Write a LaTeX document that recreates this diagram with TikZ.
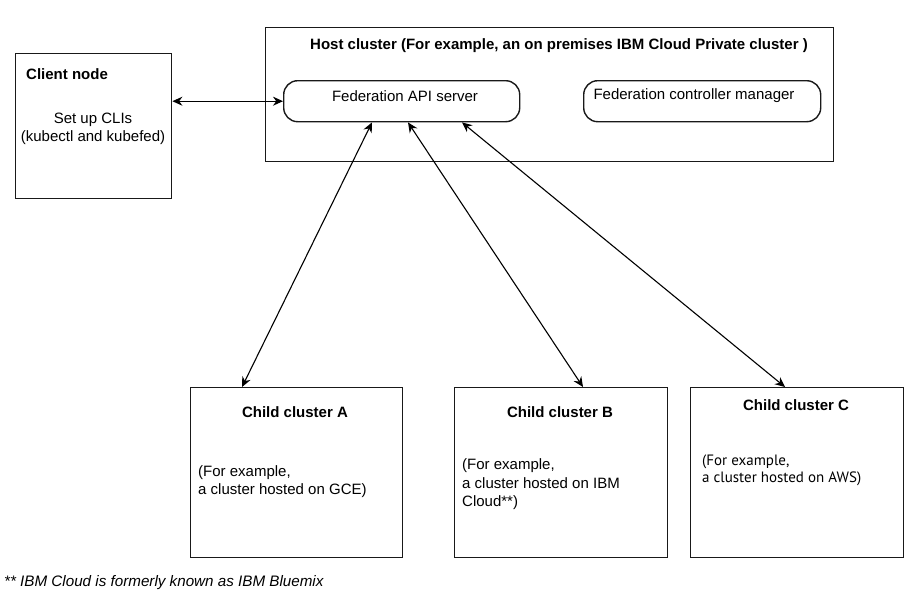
\documentclass[tikz,border=0pt]{standalone}
\usepackage{fontspec}
\setmainfont{Liberation Sans}
\newfontfamily\ptsans{PT Sans}
\usetikzlibrary{arrows.meta}
\begin{document}
\begin{tikzpicture}[x=1pt,y=-1pt,
  font=\fontsize{15pt}{18pt}\selectfont,
  box/.style={draw=black!90, line width=1.4pt, inner sep=0pt},
  rbox/.style={box, rounded corners=14pt},
  ttl/.style={font=\fontsize{15pt}{18pt}\selectfont\bfseries, inner sep=0pt},
  txt/.style={inner sep=0pt, align=left},
  arr/.style={{Stealth[length=10pt,width=9pt]}-{Stealth[length=10pt,width=9pt]}, line width=1.1pt}]
\useasboundingbox (0,0) rectangle (912,606);
% client
\node[box, anchor=north west, minimum width=156pt, minimum height=145pt] (client) at (15,53) {};
\node[ttl, anchor=west] (clientT) at (26,74) {Client node};
\node[txt, align=center] (clientS) at (93,129) {Set up CLIs\\(kubectl and kubefed)};
% host
\node[box, anchor=north west, minimum width=568pt, minimum height=134pt] (host) at (265,27) {};
\node[ttl] (hostT) at (559,46) {Host cluster (For example, an on premises IBM Cloud Private cluster )};
\node[rbox, anchor=north west, minimum width=236pt, minimum height=41pt] (api) at (283,80) {};
\node[txt] (apiT) at (405,96) {Federation API server};
\node[rbox, anchor=north west, minimum width=237pt, minimum height=41pt] (ctrl) at (583,80) {};
\node[txt] (ctrlT) at (694,96) {Federation controller manager};
% children
\node[box, anchor=north west, minimum width=212pt, minimum height=170pt] (childA) at (190,387) {};
\node[ttl] (childAT) at (295,412) {Child cluster A};
\node[txt, anchor=west] (childAS) at (198,482) {(For example,\\a cluster hosted on GCE)};
\node[box, anchor=north west, minimum width=213pt, minimum height=170pt] (childB) at (454,387) {};
\node[ttl] (childBT) at (560,412) {Child cluster B};
\node[txt, anchor=west, font=\fontsize{15pt}{18.5pt}\selectfont] (childBS) at (462,484.5) {(For example,\\a cluster hosted on IBM\\Cloud**)};
\node[box, anchor=north west, minimum width=213pt, minimum height=170pt] (childC) at (690,387) {};
\node[ttl] (childCT) at (796,405) {Child cluster C};
\node[txt, anchor=west, font=\ptsans\fontsize{15pt}{17pt}\selectfont] (childCS) at (702,470.5) {(For example,\\a cluster hosted on AWS)};
% footnote
\node[txt, anchor=west, font=\fontsize{15.2pt}{18pt}\selectfont\itshape] (foot) at (4,583) {** IBM Cloud is formerly known as IBM Bluemix};
% connectors
\draw[arr] (client.east |- api.west) -- (api.west);
\draw[arr] ([xshift=89pt]api.south west) -- ([xshift=52pt]childA.north west);
\draw[arr] ([xshift=125pt]api.south west) -- ([xshift=129pt]childB.north west);
\draw[arr] ([xshift=179pt]api.south west) -- ([xshift=95pt]childC.north west);
\end{tikzpicture}
\end{document}
